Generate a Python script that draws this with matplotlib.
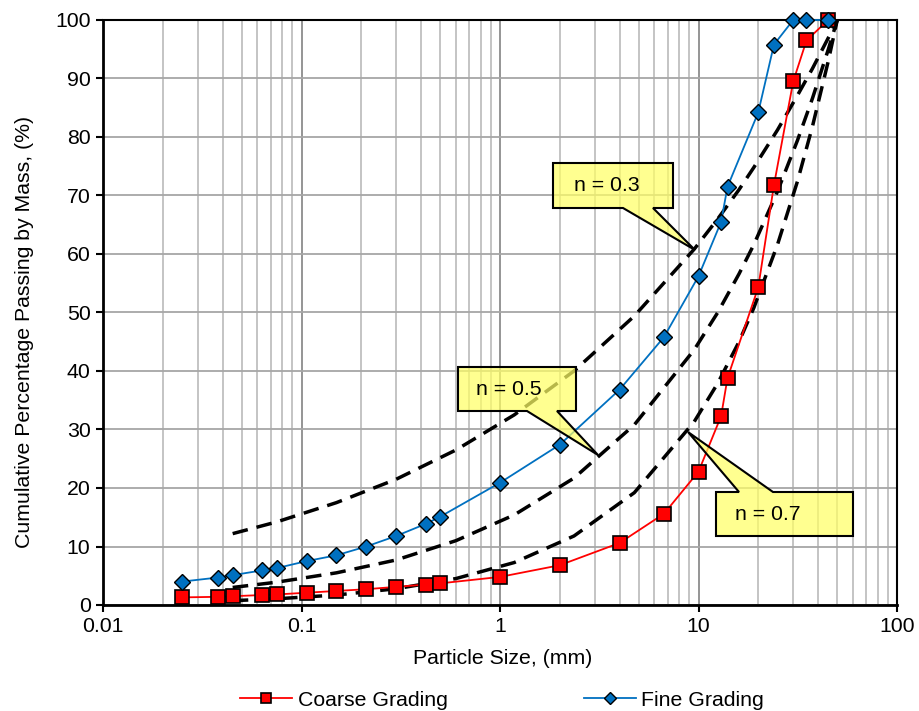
import matplotlib
matplotlib.use("Agg")
import matplotlib.pyplot as plt
from matplotlib.patches import Polygon
from matplotlib.ticker import LogLocator, NullFormatter

plt.rcParams['font.family'] = ['Liberation Sans', 'DejaVu Sans']

# ---- data ----
sieve = [0.025, 0.038, 0.045, 0.063, 0.075, 0.106, 0.15, 0.212, 0.3, 0.425, 0.5,
         1.0, 2.0, 4.0, 6.7, 10.0, 13.0, 14.0, 20.0, 24.0, 30.0, 35.0, 45.0]
coarse = [1.3, 1.4, 1.5, 1.7, 1.8, 2.1, 2.4, 2.7, 3.1, 3.5, 3.7,
          4.8, 6.8, 10.6, 15.6, 22.8, 32.3, 38.8, 54.3, 71.8, 89.5, 96.5, 100.0]
fine = [4.0, 4.7, 5.1, 5.9, 6.3, 7.5, 8.5, 10.0, 11.8, 13.9, 15.1,
        20.9, 27.4, 36.8, 45.8, 56.2, 65.5, 71.5, 84.2, 95.8, 100.0, 100.0, 100.0]

fuller_x = [0.045, 0.075, 0.15, 0.3, 0.6, 1.18, 2.36, 4.75, 9.5, 12.5, 16, 19, 25, 31.5, 37.5, 45, 50]
fuller_n03 = [12.2, 14.2, 17.5, 21.5, 26.5, 32.5, 40.0, 49.4, 60.8, 66.0, 71.0, 74.8, 81.2, 87.1, 91.7, 96.9, 100.0]
fuller_n05 = [3.0, 3.9, 5.5, 7.7, 11.0, 15.4, 21.7, 30.8, 43.6, 50.0, 56.6, 61.6, 70.7, 79.4, 86.6, 94.9, 100.0]
fuller_n07 = [0.74, 1.06, 1.71, 2.78, 4.52, 7.26, 11.8, 19.2, 31.3, 37.9, 45.0, 50.8, 61.6, 72.4, 81.8, 92.9, 100.0]

x_ticks = [0.01, 0.1, 1, 10, 100]
x_tick_labels = ['0.01', '0.1', '1', '10', '100']
y_ticks = [0, 10, 20, 30, 40, 50, 60, 70, 80, 90, 100]

FS = 15.3
W, H = 919, 711
fig = plt.figure(figsize=(W / 100, H / 100), dpi=100)
L, R, T, B = 103, 897, 20, 605
ax = fig.add_axes([L / W, 1 - B / H, (R - L) / W, (B - T) / H])

ax.set_xscale('log')
ax.set_xlim(0.01, 100)
ax.set_ylim(0, 100)

# grid
ax.xaxis.set_minor_locator(LogLocator(base=10, subs=range(2, 10), numticks=20))
ax.xaxis.set_minor_formatter(NullFormatter())
ax.grid(which='minor', axis='x', color='#BFBFBF', lw=1.3)
ax.grid(which='major', axis='x', color='#8C8C8C', lw=1.3)
ax.grid(which='major', axis='y', color='#A6A6A6', lw=1.3)
ax.set_axisbelow(True)
ax.tick_params(which='minor', length=0)

ax.set_xticks(x_ticks)
ax.set_xticklabels(x_tick_labels)
ax.set_yticks(y_ticks)
ax.tick_params(which='major', direction='out', length=5, width=1.5, labelsize=FS, pad=4, colors='black')

for side in ['left', 'bottom']:
    ax.spines[side].set_linewidth(2.0)
for side in ['top', 'right']:
    ax.spines[side].set_linewidth(1.5)

# Fuller curves
for ys in (fuller_n03, fuller_n05, fuller_n07):
    ax.plot(fuller_x, ys, color='black', lw=2.5, dashes=(4.5, 2.6), zorder=3)

# series
ax.plot(sieve, coarse, color='#FF0000', lw=1.3, marker='s', ms=10,
        mfc='#FF0000', mec='black', mew=1.2, zorder=4, label='Coarse Grading', clip_on=False)
ax.plot(sieve, fine, color='#0070C0', lw=1.3, marker='D', ms=8.3,
        mfc='#0070C0', mec='black', mew=1.0, zorder=5, label='Fine Grading', clip_on=False)

ax.set_xlabel('Particle Size, (mm)', fontsize=FS)
ax.set_ylabel('Cumulative Percentage Passing by Mass, (%)', fontsize=FS)
ax.xaxis.set_label_coords(0.504, (B - 649) / (B - T))
ax.yaxis.set_label_coords((34 - L) / (R - L), (B - 332) / (B - T))


def px(p):
    return ((p[0] - L) / (R - L), (B - p[1]) / (B - T))


callouts = [
    ([(553, 163), (673, 163), (673, 208), (653, 208), (695, 250), (623, 208), (553, 208)],
     'n = 0.3', (607, 186)),
    ([(458, 367), (576, 367), (576, 411), (557, 411), (598, 455), (527, 411), (458, 411)],
     'n = 0.5', (509, 390)),
    ([(716, 492), (739, 492), (688, 432), (773, 492), (853, 492), (853, 536), (716, 536)],
     'n = 0.7', (768, 514)),
]
for pts, txt, tpos in callouts:
    poly = Polygon([px(p) for p in pts], closed=True, transform=ax.transAxes,
                   facecolor=(1.0, 1.0, 0.4, 0.72), edgecolor='black', lw=1.5, zorder=6)
    ax.add_patch(poly)
    tx, ty = px(tpos)
    ax.text(tx, ty, txt, transform=ax.transAxes, ha='center', va='center',
            fontsize=FS, zorder=7)

leg = fig.legend(loc='center', bbox_to_anchor=(502 / W, 1 - 700 / H), ncol=2, frameon=False,
                 fontsize=FS, handlelength=2.45, columnspacing=6.4, markerscale=0.75,
                 handletextpad=0.25, borderpad=0, borderaxespad=0)

fig.savefig('out.png', dpi=100)
